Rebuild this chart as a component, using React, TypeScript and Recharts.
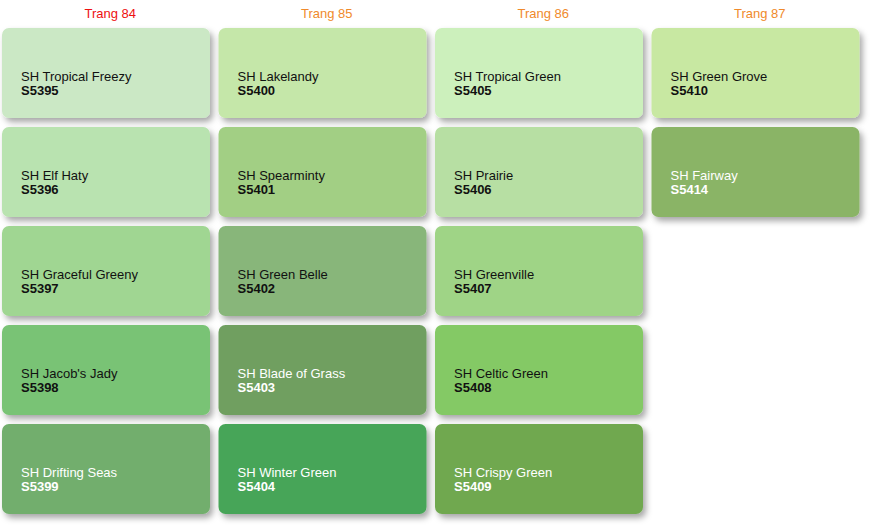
import { Scatter, ScatterChart, XAxis, YAxis } from "recharts";

const pages = ["Trang 84", "Trang 85", "Trang 86", "Trang 87"];
const pageColors = ["#ee1111", "#f08a2c", "#f08a2c", "#f08a2c"];

const names = [
  "SH Tropical Freezy", "SH Elf Haty", "SH Graceful Greeny", "SH Jacob's Jady", "SH Drifting Seas",
  "SH Lakelandy", "SH Spearminty", "SH Green Belle", "SH Blade of Grass", "SH Winter Green",
  "SH Tropical Green", "SH Prairie", "SH Greenville", "SH Celtic Green", "SH Crispy Green",
  "SH Green Grove", "SH Fairway",
];
const codes = [
  "S5395", "S5396", "S5397", "S5398", "S5399",
  "S5400", "S5401", "S5402", "S5403", "S5404",
  "S5405", "S5406", "S5407", "S5408", "S5409",
  "S5410", "S5414",
];
const cols = [0, 0, 0, 0, 0, 1, 1, 1, 1, 1, 2, 2, 2, 2, 2, 3, 3];
const rows = [0, 1, 2, 3, 4, 0, 1, 2, 3, 4, 0, 1, 2, 3, 4, 0, 1];
const fills = [
  "#cbe8c5", "#b9e3b0", "#a0d692", "#79c374", "#72ae6d",
  "#c5e7a9", "#a2cf84", "#88b67a", "#6f9f60", "#47a558",
  "#ccf0bc", "#b7dfa3", "#9fd486", "#84c965", "#70a850",
  "#c8e8a2", "#8ab466",
];
const lightText = ["S5399", "S5403", "S5404", "S5409", "S5414"];

const data = names.map((name, i) => ({
  x: cols[i] + 0.5,
  y: rows[i] + 0.5,
  name,
  code: codes[i],
  fill: fills[i],
}));

const Swatch = (props: any) => {
  const { cx, cy, payload } = props;
  const w = 208;
  const h = 90;
  const left = cx - 108.25 + 0;
  const top = cy - 49.5;
  const color = lightText.includes(payload.code) ? "#ffffff" : "#111111";
  return (
    <g>
      <rect x={left} y={top} width={w} height={h} rx={7} fill={payload.fill} filter="url(#shadow)" />
      <text x={left + 19} y={top + 53} fontSize={13} fill={color} fontFamily="Liberation Sans, Arial, sans-serif">
        {payload.name}
      </text>
      <text x={left + 19} y={top + 67} fontSize={13} fontWeight="bold" fill={color} fontFamily="Liberation Sans, Arial, sans-serif">
        {payload.code}
      </text>
    </g>
  );
};

const PageTick = (props: any) => {
  const { x, payload } = props;
  const i = Math.floor(payload.value);
  return (
    <text x={x} y={18} textAnchor="middle" fontSize={13} fill={pageColors[i]} fontFamily="Liberation Sans, Arial, sans-serif">
      {pages[i]}
    </text>
  );
};

export default function App() {
  return (
    <div style={{ position: "absolute", left: 0, top: 0, width: 874, height: 531, background: "#fff" }}>
      <svg width={0} height={0} style={{ position: "absolute" }}>
        <defs>
          <filter id="shadow" x="-10%" y="-10%" width="125%" height="135%">
            <feDropShadow dx={3} dy={4} stdDeviation={3} floodColor="#000" floodOpacity={0.35} />
          </filter>
        </defs>
      </svg>
      <ScatterChart width={874} height={531} margin={{ top: 0, right: 6, bottom: 8, left: 2 }}>
        <XAxis
          type="number"
          dataKey="x"
          orientation="top"
          domain={[0, 4]}
          ticks={[0.5, 1.5, 2.5, 3.5]}
          height={28}
          axisLine={false}
          tickLine={false}
          tick={<PageTick />}
        />
        <YAxis type="number" dataKey="y" domain={[0, 5]} reversed hide />
        <Scatter data={data} shape={<Swatch />} isAnimationActive={false} />
      </ScatterChart>
    </div>
  );
}
